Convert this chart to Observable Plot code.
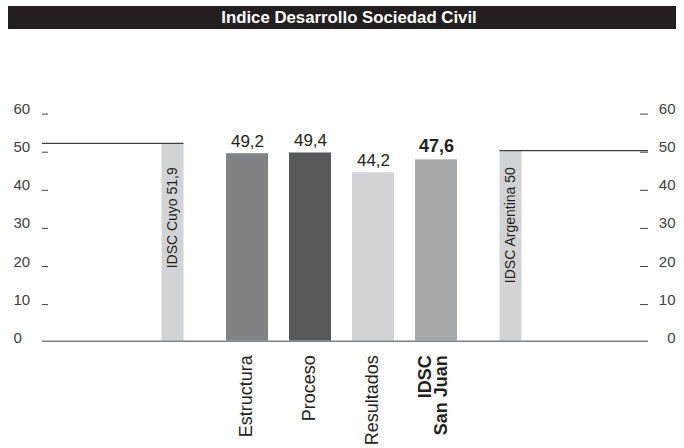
<!DOCTYPE html>
<html>
<head>
<meta charset="utf-8">
<script src="https://cdn.jsdelivr.net/npm/d3@7"></script>
<script src="https://cdn.jsdelivr.net/npm/@observablehq/plot@0.6"></script>
<style>
  html, body { margin: 0; padding: 0; background: #fff; }
  #wrap { position: relative; width: 684px; height: 448px; }
  #title {
    position: absolute; top: 6px; left: 8px; width: 668px; height: 23px;
    box-sizing: border-box; padding-left: 14px;
    background: #231f20; color: #fff; text-align: center;
    font: bold 16.8px "Liberation Sans", Arial, sans-serif; line-height: 23px;
  }
  #chart { position: absolute; top: 0; left: 0; }
</style>
</head>
<body>
<div id="wrap">
  <div id="chart"></div>
  <div id="title"></div>
</div>
<script>
// ---- data ----
const title = "Indice Desarrollo Sociedad Civil";
const categories = ["Estructura", "Proceso", "Resultados", "IDSC San Juan"];
const categoryLabels = ["Estructura", "Proceso", "Resultados", "IDSC\nSan Juan"];
const values = [49.2, 49.4, 44.2, 47.6];
const refNames = ["IDSC Cuyo", "IDSC Argentina"];
const refValues = [51.9, 50];
const yTicks = [0, 10, 20, 30, 40, 50, 60];

// ---- styles ----
const barColors = ["#808285", "#58595b", "#d1d3d4", "#a7a9ac"];
const refColor = "#d1d3d4";
const ink = "#231f20";
const axisInk = "#414042";

document.getElementById("title").textContent = title;

const fmt = v => String(v).replace(".", ",");
const bars = categories.map((c, i) => ({cat: c, label: categoryLabels[i], value: values[i]}));
const refs = refNames.map((n, i) => ({cat: n, value: refValues[i], label: `${n} ${fmt(refValues[i])}`}));
const domain = [refNames[0], ...categories, refNames[1]];
const bold = d => d.cat === "IDSC San Juan";

const chart = Plot.plot({
  width: 684,
  height: 448,
  marginLeft: 42,
  marginRight: 36,
  marginTop: 112.1,
  marginBottom: 107.3,
  style: {fontFamily: '"Liberation Sans", Arial, sans-serif', color: ink, background: "transparent"},
  x: {type: "band", domain, range: [163, 520], paddingInner: 1 / 3, paddingOuter: 0, axis: null},
  y: {domain: [0, 60], axis: null},
  color: {domain: categories, range: barColors},
  marks: [
    // reference bars
    Plot.barY(refs.slice(0, 1), {x: "cat", y: "value", fill: refColor, insetLeft: -1.5, insetRight: 21.5}),
    Plot.barY(refs.slice(1), {x: "cat", y: "value", fill: refColor, insetLeft: 21.5, insetRight: -1.5}),
    // reference lines (from the frame edge to the reference bar)
    Plot.ruleY(refs.slice(0, 1), {y: "value", insetRight: 464.5, stroke: axisInk, strokeWidth: 1.2}),
    Plot.ruleY(refs.slice(1), {y: "value", insetLeft: 457.5, stroke: axisInk, strokeWidth: 1.2}),
    // reference labels inside the bars
    Plot.text(refs.slice(0, 1), {x: "cat", text: "label", frameAnchor: "top", lineAnchor: "middle", dy: 54.6, dx: -12, rotate: -90, textAnchor: "end", fontSize: 14, fill: ink}),
    Plot.text(refs.slice(1), {x: "cat", text: "label", frameAnchor: "top", lineAnchor: "middle", dy: 54.6, dx: 11, rotate: -90, textAnchor: "end", fontSize: 14, fill: ink}),
    // main bars
    Plot.barY(bars, {x: "cat", y: "value", fill: "cat"}),
    // value labels
    Plot.text(bars.filter(d => !bold(d)), {x: "cat", y: "value", text: d => fmt(d.value), lineAnchor: "bottom", dy: -6.5, fontSize: 17, fill: ink, letterSpacing: 1.5}),
    Plot.text(bars.filter(bold), {x: "cat", y: "value", text: d => fmt(d.value), lineAnchor: "bottom", dy: -7.5, fontSize: 18, fontWeight: "bold", fill: ink, letterSpacing: 0.8}),
    // category labels
    Plot.text(bars.filter(d => !bold(d)), {x: "cat", text: "label", frameAnchor: "bottom", lineAnchor: "middle", dy: 14, dx: -1.5, rotate: -90, textAnchor: "end", fontSize: 18, fill: ink}),
    Plot.text(bars.filter(bold), {x: "cat", text: "label", frameAnchor: "bottom", lineAnchor: "middle", dy: 14, dx: -2.5, rotate: -90, textAnchor: "end", fontSize: 18, fontWeight: "bold", lineHeight: 0.9, fill: ink}),
    // y ticks (left and right)
    Plot.ruleY(yTicks.filter(d => d > 0), {y: d => d, dy: 1.5, insetRight: 600, stroke: axisInk, strokeWidth: 1}),
    Plot.ruleY(yTicks.filter(d => d > 0), {y: d => d, dy: 1.5, insetLeft: 598, stroke: axisInk, strokeWidth: 1}),
    Plot.text(yTicks, {y: d => d, text: d => String(d), frameAnchor: "left", textAnchor: "start", lineAnchor: "bottom", dx: -29, dy: 1.5, fontSize: 15, fill: axisInk, letterSpacing: 1.5}),
    Plot.text(yTicks, {y: d => d, text: d => String(d), frameAnchor: "right", textAnchor: "end", lineAnchor: "bottom", dx: 27, dy: 1.5, fontSize: 15, fill: axisInk, letterSpacing: 1.5}),
    // baseline
    Plot.ruleY([0], {stroke: "#808285", strokeWidth: 1.5})
  ]
});
document.getElementById("chart").appendChild(chart);
</script>
</body>
</html>
